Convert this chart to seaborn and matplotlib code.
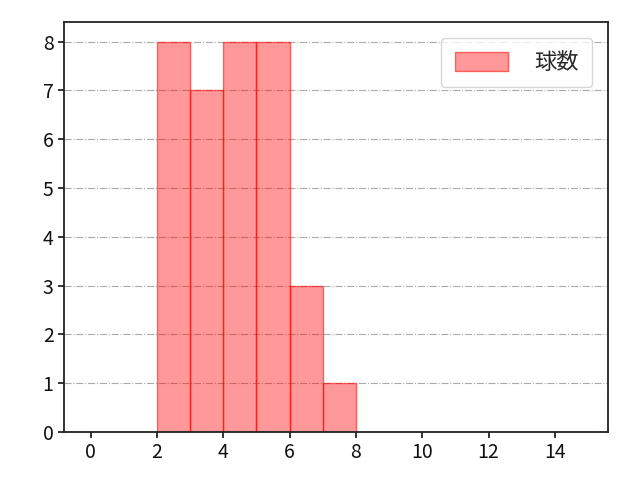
import matplotlib
matplotlib.use("Agg")
import matplotlib.pyplot as plt
import seaborn as sns

# datos del histograma (inicio de cada bin y su frecuencia)
bin_left = [2, 3, 4, 5, 6, 7]
counts = [8, 7, 8, 8, 3, 1]
bin_edges = list(range(0, 16))
xticks = [0, 2, 4, 6, 8, 10, 12, 14]
label = '球数'

sns.set_style("ticks")
plt.rcParams['font.family'] = ['Noto Sans CJK JP', 'DejaVu Sans']

fig, ax = plt.subplots(figsize=(6.4, 4.8), dpi=100)

sns.histplot(x=bin_left, weights=counts, bins=bin_edges, ax=ax,
             facecolor=(1, 0, 0, 0.4), edgecolor=(1, 0, 0, 0.55),
             linewidth=1, label=label)

ax.set_xlim(-0.8, 15.6)
ax.set_ylim(0, 8.4)
ax.set_xticks(xticks)
ax.set_ylabel('')
ax.set_xlabel('')
ax.tick_params(labelsize=14, width=1.2, length=4, colors='#111111')
for s in ax.spines.values():
    s.set_linewidth(1.3)
    s.set_color('#222222')
ax.grid(axis='y', linestyle='-.', color='#aaaaaa', linewidth=0.8)
ax.set_axisbelow(True)
ax.legend(loc='upper right', fontsize=16, handlelength=2.4, handleheight=0.9,
          borderpad=0.6, handletextpad=1.2, borderaxespad=0.7)

fig.subplots_adjust(left=0.1, right=0.95, top=0.954, bottom=0.1)
plt.savefig('out.png')
